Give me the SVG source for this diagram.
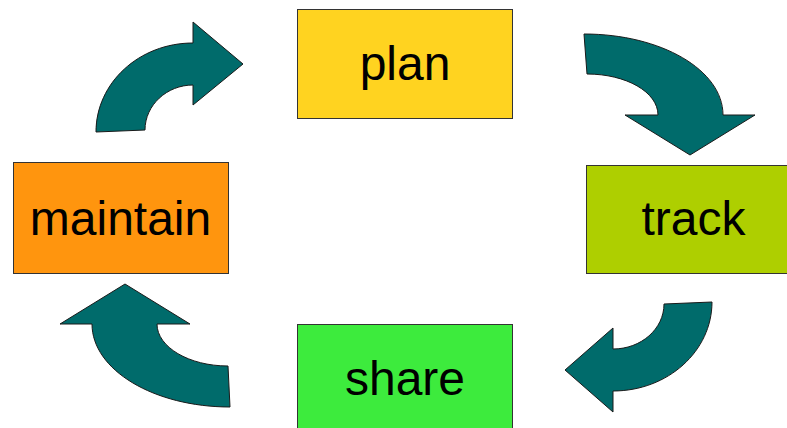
<svg xmlns="http://www.w3.org/2000/svg" width="787" height="428" viewBox="0 0 787 428">
<style>
.box{stroke:#333333;stroke-width:1}
.lbl{font-family:"Liberation Sans",Arial,sans-serif;font-size:48px;fill:#000000;text-anchor:middle}
.arr{fill:#006b6b;stroke:#1a1a1a;stroke-width:1;stroke-linejoin:miter}
</style>
<rect width="787" height="428" fill="#ffffff"/>
<g id="plan">
<rect class="box" x="297.5" y="9.5" width="215" height="109" fill="#ffd320"/>
<text class="lbl" x="405" y="80">plan</text>
</g>
<g id="track">
<rect class="box" x="586.5" y="165.5" width="215" height="108" fill="#aecf00"/>
<text class="lbl" x="693.5" y="235">track</text>
</g>
<g id="share">
<rect class="box" x="297.5" y="324.5" width="215" height="110" fill="#3deb3d"/>
<text class="lbl" x="405" y="395">share</text>
</g>
<g id="maintain">
<rect class="box" x="13.5" y="162.5" width="215" height="111" fill="#ff950e"/>
<text class="lbl" x="120.5" y="235">maintain</text>
</g>
<g id="connectors">
<path class="arr" d="M96,132 C96,83 139,43 193,43 L193,22 L243,64 L193,105 L193,85 C167,85 145,105 145,130 Z"/>
<path class="arr" d="M584,34 C661,34 723,70 723,115 L755,115 L690,155 L625,115 L658,115 C658,92 626,74 587,74 Z"/>
<path class="arr" d="M712,302 L664,304 C664,329 641,349 613,349 L613,328 L565,370 L613,412 L613,391 C668,391 712,351 712,302 Z"/>
<path class="arr" d="M125,284 L190,324 L157,324 C157,347 189,366 228,366 L230,407 C154,407 92,370 92,324 L60,324 Z"/>
</g>
</svg>
